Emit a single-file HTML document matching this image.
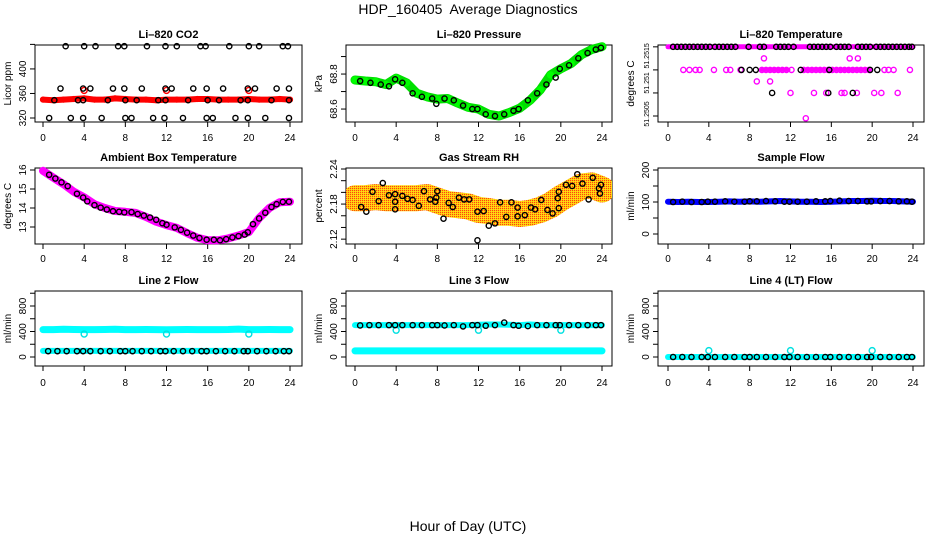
<!DOCTYPE html>
<html><head><meta charset="utf-8"><style>
html,body{margin:0;padding:0;background:#fff;}
svg{display:block;font-family:"Liberation Sans",sans-serif;}
</style></head><body>
<svg id="c" width="936" height="540" viewBox="0 0 936 540">
<defs><pattern id="rhpat" width="2" height="2" patternUnits="userSpaceOnUse"><rect width="2" height="2" fill="#ffb820"/><rect width="1" height="1" fill="#ff5000"/><rect x="1" y="1" width="1" height="1" fill="#ffee00"/></pattern></defs>
<text x="468" y="14" text-anchor="middle" font-size="14" style="white-space:pre">HDP_160405  Average Diagnostics</text>
<text x="468" y="531" text-anchor="middle" font-size="14">Hour of Day (UTC)</text>
</svg>
<script>
const hours=[0,1,2,3,4,5,6,7,8,9,10,11,12,13,14,15,16,17,18,19,20,21,22,23,24];
const blackHours=[0.5,1.4,2.3,3.3,3.9,4.6,5.6,6.5,7.5,8,8.7,9.6,10.5,11.4,11.9,12.7,13.6,14.5,15.4,15.9,16.8,17.7,18.6,19.5,19.9,20.8,21.7,22.6,23.4,23.9];
const xTicks=[0,4,8,12,16,20,24];
// CO2
const co2Red=[350,349,350,351,352,350,350,352,351,350,350,349,350,350,350,351,351,350,350,350,351,350,350,351,350];
const co2OutT=[4,12,20];const co2OutV=[365,365,365];
const co2BlackT=[2.2,4,5.1,7.3,7.9,10.1,11.9,13,15.3,15.8,18.1,20,21,23.3,23.8,1.7,3.9,4.6,6.8,7.9,9.6,11.9,12.5,14.6,15.9,17.5,19.9,20.6,22.7,23.9,1.1,3.4,3.9,6.3,8,9.1,11.2,11.9,14.1,16,17.1,19.2,19.9,22.2,23.9,0.6,2.7,3.9,5.7,8,8.6,10.7,11.8,13.6,15.9,16.5,18.7,19.9,21.6,23.9];
const co2BlackV=[437,437,437,437,437,437,437,437,437,437,437,437,437,437,437,368,368,368,368,368,368,368,368,368,368,368,368,368,368,368,349,349,349,349,349,349,349,349,349,349,349,349,349,349,349,320,320,320,320,320,320,320,320,320,320,320,320,320,320,320];
// Pressure
const pressGreen=[68.766,68.76,68.756,68.74,68.777,68.75,68.69,68.67,68.657,68.66,68.634,68.61,68.60,68.57,68.56,68.58,68.605,68.65,68.71,68.795,68.83,68.86,68.91,68.94,68.956];
const pressBlackT=[0.5,1.5,2.5,3.3,3.9,4.6,5.6,6.5,7.5,7.9,8.7,9.6,10.5,11.4,11.9,12.7,13.6,14.5,15.4,15.9,16.8,17.7,18.6,19.5,19.9,20.8,21.7,22.6,23.4,23.9];
const pressBlack=[68.76,68.75,68.74,68.73,68.77,68.75,68.69,68.67,68.66,68.63,68.66,68.65,68.62,68.60,68.60,68.57,68.56,68.57,68.59,68.60,68.65,68.69,68.74,68.78,68.83,68.85,68.89,68.92,68.94,68.95];
// Li-820 temperature
const tempTopT=[0.5,0.9,1.3,1.7,2.1,2.5,2.9,3.3,3.7,4.1,4.6,5,5.4,5.8,6.2,6.6,7.9,9,9.4,10.6,11,11.4,11.8,12.3,13.9,14.3,14.7,15.1,15.5,15.9,16.5,16.9,17.3,17.7,18.6,19,19.4,19.8,20.4,20.8,21.2,21.6,22,22.4,22.8,23.2,23.6,23.9];
const tempPinkT=[1.5,2.1,2.7,3.1,4.5,5.7,6.1,7.1,9.2,9.6,10,10.4,10.8,11.2,11.6,12.1,13.3,13.7,14.1,14.5,14.9,15.3,15.7,16.1,16.5,16.9,17.3,17.7,18.1,18.5,18.9,19.3,19.7,21.2,21.6,22.1,23.7,9.4,17.8,18.6,8.7,10,12,14.3,15.5,17,17.3,18.5,20.2,20.9,22.5,13.5];
const tempPinkV=[51.2515,51.2515,51.2515,51.2515,51.2515,51.2515,51.2515,51.2515,51.2515,51.2515,51.2515,51.2515,51.2515,51.2515,51.2515,51.2515,51.2515,51.2515,51.2515,51.2515,51.2515,51.2515,51.2515,51.2515,51.2515,51.2515,51.2515,51.2515,51.2515,51.2515,51.2515,51.2515,51.2515,51.2515,51.2515,51.2515,51.2515,51.25175,51.25175,51.25175,51.25125,51.25125,51.251,51.251,51.251,51.251,51.251,51.251,51.251,51.251,51.251,51.25045];
const tempBlackT=[7.2,8,8.6,13,15.8,19.8,20.5,10.2,15.7,18.1];
const tempBlackV=[51.2515,51.2515,51.2515,51.2515,51.2515,51.2515,51.2515,51.251,51.251,51.251];
// Ambient box temperature
const ambMag=[15.96,15.6,15.25,14.85,14.56,14.2,14.0,13.84,13.8,13.74,13.53,13.28,13.1,12.95,12.68,12.43,12.3,12.3,12.4,12.55,12.73,13.47,14.0,14.3,14.33];
const ambBlackT=[0.6,1.2,1.8,2.4,3.3,3.9,4.3,5,5.6,6.2,6.8,7.4,7.9,8.6,9.2,9.8,10.4,11,11.6,12,12.8,13.4,14,14.6,15.2,15.9,16.6,17.2,17.8,18.4,19,19.6,19.9,20.4,21,21.6,22.2,22.7,23.3,23.9];
const ambBlackV=[15.75,15.55,15.35,15.15,14.75,14.55,14.35,14.15,14.02,13.92,13.83,13.8,13.77,13.78,13.68,13.6,13.5,13.38,13.2,13.12,12.98,12.85,12.7,12.55,12.42,12.33,12.33,12.3,12.36,12.45,12.52,12.6,12.72,13.15,13.45,13.75,14.05,14.2,14.32,14.33];
// Gas stream RH
const rhBand=[2.19,2.19,2.192,2.19,2.19,2.19,2.19,2.192,2.186,2.18,2.178,2.176,2.17,2.168,2.165,2.165,2.163,2.165,2.17,2.178,2.19,2.2,2.21,2.212,2.205];
const rhBlackT=[0.6,1.1,1.7,2.3,2.7,3.3,3.9,3.9,3.9,4.6,5.1,5.6,6.2,6.7,7.3,7.8,7.9,8,8.6,9.1,9.5,10.1,10.6,11.1,11.9,11.9,12.5,13,13.6,14.1,14.7,15.2,15.8,15.8,16.5,17.1,17.5,18.1,18.7,19.2,19.7,19.8,19.8,20.5,21.1,21.6,22.1,22.7,23.1,23.7,23.8,23.9];
const rhBlackV=[2.175,2.167,2.201,2.185,2.216,2.195,2.197,2.184,2.171,2.194,2.189,2.187,2.177,2.202,2.188,2.184,2.191,2.202,2.155,2.182,2.175,2.191,2.188,2.188,2.167,2.118,2.168,2.143,2.147,2.183,2.158,2.183,2.174,2.159,2.161,2.174,2.171,2.187,2.17,2.164,2.19,2.201,2.173,2.213,2.211,2.231,2.215,2.188,2.225,2.207,2.198,2.213];
// Sample flow
const sampleBlue=[101,100,101,100,100,101,102,101,102,101,102,103,102,101,101,100,101,102,103,103,104,103,103,102,101];
const sampleBlack=[100,101,100,100,101,101,102,101,101,102,102,103,102,101,101,101,101,102,102,103,104,103,103,102,102,103,103,102,102,101];
// Line 2 flow
const l2High=[430,430,435,432,430,430,432,435,430,430,432,430,428,430,432,430,430,430,432,438,430,430,432,430,430];
const l2DipT=[4,12,20];const l2DipV=[360,360,360];
const l2Low=[95,95,95,95,95,95,95,95,95,95,95,95,95,95,95,95,95,95,95,95,95,95,95,95,95];
const l2Black=[92,92,92,92,92,92,92,92,92,92,92,92,92,92,92,92,92,92,92,92,92,92,92,92,92,92,92,92,92,92];
// Line 3 flow
const l3High=[500,500,500,500,500,500,500,500,500,500,500,500,505,510,510,505,500,510,500,500,500,500,500,500,500];
const l3DipT=[4,12,20];const l3DipV=[420,420,420];
const l3Low=[95,95,95,95,95,95,95,95,95,95,95,95,95,95,95,95,95,95,95,95,95,95,95,95,95];
const l3Black=[495,500,500,500,500,500,500,500,500,500,495,500,480,500,500,490,500,540,500,490,485,500,500,500,500,500,500,500,500,500];
// Line 4 flow
const l4Cyan=[0,0,0,0,0,0,0,0,0,0,0,0,0,0,0,0,0,0,0,0,0,0,0,0,0];
const l4OutT=[4,12,20];const l4OutV=[100,100,100];
const l4Black=[0,0,0,0,0,0,0,0,0,0,0,0,0,0,0,0,0,0,0,0,0,0,0,0,0,0,0,0,0,0];

const NS='http://www.w3.org/2000/svg';
const svg=document.getElementById('c');
const cols=[{fl:35,fr:302,x0:43,x24:290},{fl:346,fr:612,x0:355,x24:602},{fl:658,fr:924,x0:668,x24:913}];
const rows=[{ft:45,fb:122,lab:141,tt:38},{ft:168,fb:244,lab:262,tt:161},{ft:291,fb:366,lab:386,tt:284}];
function mk(tag,attrs,parent){const e=document.createElementNS(NS,tag);for(const k in attrs)e.setAttribute(k,attrs[k]);(parent||svg).appendChild(e);return e;}
function panel(o){
  const c=cols[o.col],r=rows[o.row];
  const g=mk('g',{});
  
  
  const sx=t=>c.x0+(t/24)*(c.x24-c.x0);
  const sy=v=>r.fb-(v-o.lo)/(o.hi-o.lo)*(r.fb-r.ft);
  const fr=mk('rect',{x:c.fl,y:r.ft,width:c.fr-c.fl,height:r.fb-r.ft,fill:'none',stroke:'#000','stroke-width':1},g);
  
  
  const t=mk('text',{x:(c.fl+c.fr)/2,y:r.tt,'text-anchor':'middle','font-size':11,'font-weight':'bold'},g);
  t.textContent=o.title;
  
  
  const yl=mk('text',{x:0,y:0,'text-anchor':'middle','font-size':10,transform:`translate(${c.fl-24},${(r.ft+r.fb)/2}) rotate(-90)`},g);
  yl.textContent=o.ylab;
  
  
  const xa=mk('g',{},g);
  
  
  mk('line',{x1:sx(0),x2:sx(24),y1:r.fb,y2:r.fb,stroke:'#000'},xa);
  xTicks.forEach(v=>{mk('line',{x1:sx(v),x2:sx(v),y1:r.fb,y2:r.fb+5,stroke:'#000'},xa);
    const tx=mk('text',{x:sx(v),y:r.lab,'text-anchor':'middle','font-size':10},xa);tx.textContent=v;
    
    });
  const ya=mk('g',{},g);
  
  
  o.yt.forEach((v,i)=>{const y=sy(v);mk('line',{x1:c.fl-5,x2:c.fl,y1:y,y2:y,stroke:'#000'},ya);
    const lb=o.ytl[i];if(lb!==''){const off=(o.ylOff?o.ylOff[i]:0);
    const tx=mk('text',{x:0,y:0,'text-anchor':'middle','font-size':o.yfs||10,transform:`translate(${c.fl-9},${y+off}) rotate(-90)`},ya);tx.textContent=lb;
    
    }});
  const clip='cp'+o.name;
  const cp=mk('clipPath',{id:clip},g);mk('rect',{x:c.fl,y:r.ft-3,width:c.fr-c.fl,height:r.fb-r.ft+6},cp);
  const m=mk('g',{'clip-path':`url(#${clip})`},g);
  return {sx,sy,m};
}
function band(p,ts,vs,color,w,name){
  const pts=ts.map((t,i)=>p.sx(t).toFixed(1)+','+p.sy(vs[i]).toFixed(1)).join(' ');
  const l=mk('polyline',{points:pts,fill:'none',stroke:color,'stroke-width':w,'stroke-linecap':'round','stroke-linejoin':'round'},p.m);
  
  
}
function pts(p,ts,vs,color,fill,name,rr){
  const g=mk('g',{},p.m);
  
  
  ts.forEach((t,i)=>{mk('circle',{cx:p.sx(t),cy:p.sy(vs[i]),r:rr||2.6,fill:fill,stroke:color,'stroke-width':1.4},g);});
}

let p=panel({name:'co2-panel',col:0,row:0,lo:313.5,hi:439,yt:[320,360,400,440],ytl:['320','360','400',''],title:'Li\u2013820 CO2',ylab:'Licor ppm'});
band(p,hours,co2Red,'#ff0000',6,'co2-red-series');
pts(p,hours,co2Red,'#ff0000','#ff0000','co2-red-points',2.4);
pts(p,co2OutT,co2OutV,'#ff0000','none','co2-red-outliers',3);
pts(p,co2BlackT,co2BlackV,'#000','none','co2-black-points');

p=panel({name:'pressure-panel',col:1,row:0,lo:68.526,hi:68.966,yt:[68.6,68.7,68.8,68.9],ytl:['68.6','','68.8',''],title:'Li\u2013820 Pressure',ylab:'kPa'});
band(p,hours,pressGreen,'#00e000',9,'pressure-green-series');
pts(p,hours,pressGreen,'#00ff00','#00ff00','pressure-green-points',3);
pts(p,pressBlackT,pressBlack,'#000','none','pressure-black-points');

p=panel({name:'li820-temperature-panel',col:2,row:0,lo:51.25037,hi:51.25204,yt:[51.2505,51.251,51.2515,51.252],ytl:['51.2505','51.251','51.2515',''],ylOff:[-2,-10,-14,0],yfs:7,title:'Li\u2013820 Temperature',ylab:'degrees C'});
band(p,[0,24],[51.252,51.252],'#ff00ff',5,'temperature-pink-top');
pts(p,tempPinkT,tempPinkV,'#ff00ff','none','temperature-pink-points');
band(p,[9.2,11.8],[51.2515,51.2515],'#ff00ff',4,'temperature-pink-run1');
band(p,[13.3,19.7],[51.2515,51.2515],'#ff00ff',4,'temperature-pink-run2');
pts(p,tempTopT,tempTopT.map(()=>51.252),'#000','none','temperature-black-top');
pts(p,tempBlackT,tempBlackV,'#000','none','temperature-black-points');

p=panel({name:'ambient-temperature-panel',col:0,row:1,lo:12.105,hi:16.105,yt:[13,14,15,16],ytl:['13','14','15','16'],title:'Ambient Box Temperature',ylab:'degrees C'});
band(p,hours,ambMag,'#ff00ff',8,'ambient-magenta-series');
pts(p,ambBlackT,ambBlackV,'#000','none','ambient-black-points');

p=panel({name:'gas-stream-rh-panel',col:1,row:1,lo:2.1117,hi:2.2417,yt:[2.12,2.14,2.16,2.18,2.2,2.22,2.24],ytl:['2.12','','','2.18','','','2.24'],title:'Gas Stream RH',ylab:'percent'});
band(p,hours,rhBand,'url(#rhpat)',26,'rh-orange-band');
pts(p,rhBlackT,rhBlackV,'#000','none','rh-black-points');

p=panel({name:'sample-flow-panel',col:2,row:1,lo:-31.25,hi:206.25,yt:[0,50,100,150,200],ytl:['0','','100','','200'],title:'Sample Flow',ylab:'ml/min'});
band(p,hours,sampleBlue,'#0000ff',6,'sample-blue-series');
pts(p,blackHours,sampleBlack,'#000','none','sample-black-points');

const r3yt=[0,200,400,600,800,1000],r3ytl=['0','','400','','800',''];
p=panel({name:'line2-flow-panel',col:0,row:2,lo:-141,hi:1035,yt:r3yt,ytl:r3ytl,title:'Line 2 Flow',ylab:'ml/min'});
band(p,hours,l2High,'#00ffff',7,'line2-cyan-high');
pts(p,l2DipT,l2DipV,'#00e0e0','none','line2-cyan-dips',3);
band(p,hours,l2Low,'#00ffff',6,'line2-cyan-low');
pts(p,blackHours,l2Black,'#000','none','line2-black-points');

p=panel({name:'line3-flow-panel',col:1,row:2,lo:-141,hi:1035,yt:r3yt,ytl:r3ytl,title:'Line 3 Flow',ylab:'ml/min'});
band(p,hours,l3High,'#00ffff',6,'line3-cyan-high');
pts(p,l3DipT,l3DipV,'#00e0e0','none','line3-cyan-dips',3);
band(p,hours,l3Low,'#00ffff',7,'line3-cyan-low');
pts(p,blackHours,l3Black,'#000','none','line3-black-points');

p=panel({name:'line4-flow-panel',col:2,row:2,lo:-141,hi:1035,yt:r3yt,ytl:r3ytl,title:'Line 4 (LT) Flow',ylab:'ml/min'});
band(p,hours,l4Cyan,'#00ffff',6,'line4-cyan-series');
pts(p,l4OutT,l4OutV,'#00e0e0','none','line4-cyan-outliers',3);
pts(p,blackHours,l4Black,'#000','none','line4-black-points');
</script>
</body></html>
